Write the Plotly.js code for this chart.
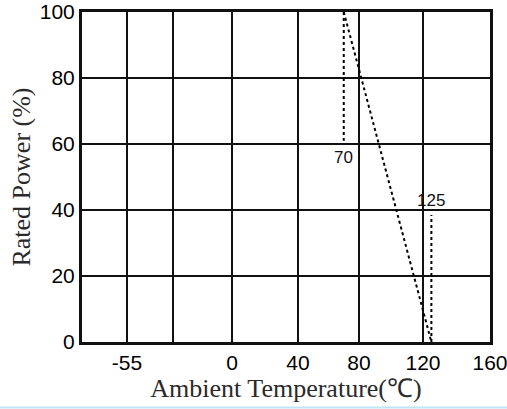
<!DOCTYPE html>
<html><head><meta charset="utf-8">
<script src="https://cdn.plot.ly/plotly-3.0.1.min.js"></script>
<style>html,body{margin:0;padding:0;background:#fff}#chart{width:507px;height:409px}</style>
</head><body><div id="chart"></div>
<script>
// ---- data ----
const xTickTemps = [-55, 0, 40, 80, 120, 160];
const xTickLabels = ['-55', '0', '40', '80', '120', '160'];
const xExtraGridTemps = [-31];            // unlabelled grid line
const yTickValues = [0, 20, 40, 60, 80, 100];
const yTickLabels = ['0', '20', '40', '60', '80', '100'];

// derating curve (rated power % vs ambient temperature)
const curveTemps = [70, 125];
const curvePower = [100, 0];

// reference (dotted) markers
const refTemps = [70, 125];
const refPowerFrom = [100, 0];
const refPowerTo = [61, 38.5];
const refLabels = ['70', '125'];
const refLabelPower = [56, 43];

// ---- layout: the drawing's temperature axis is not to scale ----
// axis positions of the labelled grid lines (axis units, plot width = 408)
const xTickAxisPos = [45, 150, 216, 277, 341, 408];
const xAxisRange = [0, 408];
function warp(t) {
  const T = xTickTemps, P = xTickAxisPos;
  let i = 0;
  if (t <= T[0]) i = 0;
  else if (t >= T[T.length - 1]) i = T.length - 2;
  else { while (t > T[i + 1]) i++; }
  return P[i] + (t - T[i]) * (P[i + 1] - P[i]) / (T[i + 1] - T[i]);
}

const dotLine = {color: '#000', width: 2, dash: 'dot'};
const traces = [{
  x: curveTemps.map(warp), y: curvePower, type: 'scatter', mode: 'lines',
  line: dotLine, hoverinfo: 'skip', showlegend: false
}];
refTemps.forEach((t, i) => {
  traces.push({
    x: [warp(t), warp(t)], y: [refPowerFrom[i], refPowerTo[i]],
    type: 'scatter', mode: 'lines', line: dotLine, hoverinfo: 'skip', showlegend: false
  });
});

const gridTemps = xTickTemps.concat(xExtraGridTemps);
const gridLabels = xTickLabels.concat(xExtraGridTemps.map(() => ''));

const tickFont = {family: '"Liberation Sans", Arial, sans-serif', size: 21, color: '#000'};
const titleFont = {family: '"Liberation Serif", "Times New Roman", serif', size: 26, color: '#2a2a2a'};

const layout = {
  width: 507, height: 409,
  margin: {l: 82, r: 17, t: 12, b: 67},
  paper_bgcolor: '#fff', plot_bgcolor: '#fff',
  showlegend: false,
  xaxis: {
    range: xAxisRange, tickmode: 'array',
    tickvals: gridTemps.map(warp), ticktext: gridLabels,
    showgrid: true, gridcolor: '#111', gridwidth: 2.5,
    showline: true, mirror: true, linecolor: '#111', linewidth: 3,
    zeroline: false, ticks: '', tickfont: tickFont, fixedrange: true,
    ticklabeloverflow: 'allow',
    title: {text: 'Ambient Temperature(℃)', font: titleFont, standoff: 1},
    automargin: false
  },
  yaxis: {
    range: [0, 100], tickmode: 'array', tickvals: yTickValues, ticktext: yTickLabels,
    showgrid: true, gridcolor: '#111', gridwidth: 2.5,
    showline: true, mirror: true, linecolor: '#111', linewidth: 3,
    zeroline: false, ticks: '', tickfont: tickFont, fixedrange: true,
    ticklabeloverflow: 'allow',
    title: {text: 'Rated Power (%)', font: titleFont, standoff: 2},
    automargin: false
  },
  annotations: refTemps.map((t, i) => ({
    x: warp(t), y: refLabelPower[i], xref: 'x', yref: 'y', text: refLabels[i],
    showarrow: false, font: {family: tickFont.family, size: 17, color: '#111'}
  })),
  shapes: [{
    type: 'line', xref: 'paper', yref: 'paper', x0: -0.21, x1: 1.05, y0: -0.1985, y1: -0.1985,
    line: {color: '#bfe6f4', width: 2}
  }]
};

Plotly.newPlot('chart', traces, layout, {displayModeBar: false, staticPlot: true});
</script>
</body></html>
